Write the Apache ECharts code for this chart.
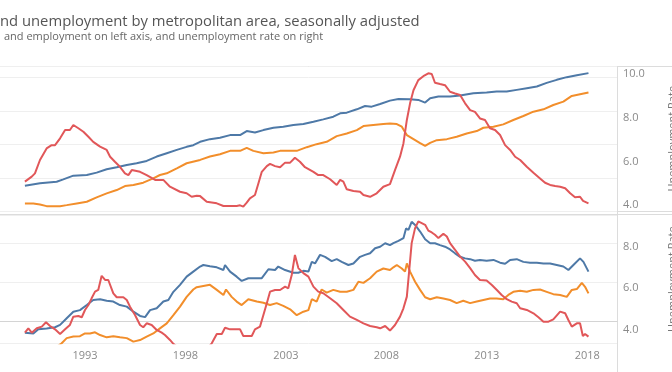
<!DOCTYPE html>
<html><head><meta charset="utf-8">
<script src="https://cdn.jsdelivr.net/npm/echarts@6/dist/echarts.min.js"></script>
<style>html,body{margin:0;padding:0;background:#fff;}#c{width:672px;height:372px;}</style>
</head><body><div id="c"></div>
<script>
// Tick labels
const yearTicks = [1993, 1998, 2003, 2008, 2013, 2018];
const rateTicksTop = [4, 6, 8, 10];
const rateTicksBottom = [4, 6, 8];

// Top metro: [year, value]  (left axis in arbitrary units; rate in %)
const topLabor = [[1990.01,0.77],[1990.76,0.84],[1991.59,0.89],[1991.92,0.96],[1992.42,1.07],[1993.09,1.09],[1993.58,1.16],[1994.08,1.26],[1994.58,1.32],[1995.08,1.39],[1995.57,1.44],[1996.07,1.51],[1996.57,1.64],[1997.07,1.74],[1997.57,1.84],[1998.06,1.93],[1998.39,1.98],[1998.73,2.08],[1999.22,2.16],[1999.72,2.2],[2000.22,2.28],[2000.72,2.28],[2001.05,2.4],[2001.46,2.36],[2001.88,2.43],[2002.38,2.5],[2002.87,2.53],[2003.37,2.58],[2003.87,2.61],[2004.37,2.68],[2004.86,2.75],[2005.36,2.83],[2005.70,2.93],[2006.03,2.95],[2006.53,3.05],[2006.94,3.15],[2007.27,3.13],[2007.69,3.21],[2008.18,3.31],[2008.60,3.36],[2009.18,3.35],[2009.59,3.33],[2009.93,3.25],[2010.18,3.38],[2010.59,3.43],[2011.17,3.43],[2011.67,3.46],[2012.33,3.53],[2012.99,3.55],[2013.49,3.58],[2013.99,3.58],[2014.49,3.63],[2014.99,3.68],[2015.49,3.73],[2015.98,3.84],[2016.48,3.93],[2016.98,4.01],[2017.48,4.07],[2018.06,4.13]];
const topEmployment = [[1990.01,0.24],[1990.43,0.24],[1990.76,0.21],[1991.09,0.16],[1991.76,0.16],[1992.09,0.19],[1992.59,0.24],[1993.09,0.29],[1993.58,0.42],[1994.08,0.54],[1994.58,0.64],[1994.99,0.76],[1995.41,0.79],[1995.90,0.86],[1996.40,0.99],[1996.73,1.09],[1997.07,1.14],[1997.57,1.29],[1998.06,1.44],[1998.73,1.54],[1999.22,1.64],[1999.72,1.71],[2000.22,1.81],[2000.72,1.81],[2001.05,1.9],[2001.38,1.81],[2001.88,1.74],[2002.38,1.76],[2002.71,1.81],[2003.54,1.81],[2004.04,1.92],[2004.53,2.01],[2005.03,2.08],[2005.53,2.25],[2006.03,2.33],[2006.53,2.43],[2006.86,2.55],[2007.35,2.58],[2007.85,2.61],[2008.18,2.63],[2008.52,2.61],[2008.77,2.53],[2009.02,2.28],[2009.35,2.16],[2009.68,2.04],[2009.93,1.96],[2010.18,2.05],[2010.51,2.13],[2011.01,2.16],[2011.50,2.23],[2012.00,2.33],[2012.50,2.4],[2012.83,2.5],[2013.33,2.53],[2013.82,2.6],[2014.32,2.73],[2014.82,2.85],[2015.32,2.98],[2015.82,3.05],[2016.31,3.18],[2016.81,3.28],[2017.23,3.45],[2017.64,3.5],[2018.06,3.55]];
const topRate = [[1990.01,5.08],[1990.35,5.31],[1990.51,5.46],[1990.76,6.07],[1991.09,6.6],[1991.34,6.75],[1991.51,6.75],[1991.76,7.06],[1992.01,7.44],[1992.25,7.44],[1992.42,7.67],[1992.67,7.52],[1992.92,7.36],[1993.17,7.13],[1993.41,6.9],[1993.75,6.68],[1994.08,6.53],[1994.25,6.22],[1994.49,5.99],[1994.74,5.76],[1994.99,5.46],[1995.16,5.38],[1995.33,5.61],[1995.74,5.53],[1996.07,5.38],[1996.49,5.16],[1996.90,5.16],[1997.23,4.85],[1997.73,4.62],[1998.06,4.55],[1998.31,4.39],[1998.56,4.44],[1998.73,4.42],[1999.06,4.16],[1999.56,4.09],[1999.89,3.97],[2000.55,3.97],[2000.72,4.0],[2000.88,3.94],[2001.05,4.12],[2001.21,4.32],[2001.46,4.47],[2001.63,5.0],[2001.80,5.53],[2002.05,5.79],[2002.21,5.89],[2002.46,5.79],[2002.71,5.74],[2002.96,5.95],[2003.21,5.95],[2003.45,6.17],[2003.70,5.99],[2003.95,5.74],[2004.37,5.53],[2004.61,5.38],[2004.86,5.38],[2005.20,5.19],[2005.53,4.93],[2005.70,5.16],[2005.86,5.08],[2006.03,4.73],[2006.36,4.65],[2006.69,4.62],[2006.86,4.47],[2007.19,4.39],[2007.52,4.55],[2007.85,4.85],[2008.18,4.97],[2008.43,5.61],[2008.68,6.22],[2008.85,6.83],[2009.02,7.9],[2009.18,8.66],[2009.35,9.26],[2009.59,9.72],[2009.84,9.9],[2010.09,10.03],[2010.26,10.0],[2010.42,9.6],[2010.67,9.54],[2010.92,9.49],[2011.17,9.19],[2011.42,9.11],[2011.67,9.04],[2011.92,8.66],[2012.17,8.35],[2012.41,8.27],[2012.66,7.97],[2012.91,7.9],[2013.16,7.52],[2013.41,7.44],[2013.66,7.21],[2013.91,6.75],[2014.16,6.53],[2014.41,6.22],[2014.66,6.07],[2014.99,5.76],[2015.32,5.49],[2015.65,5.23],[2015.90,5.03],[2016.15,4.93],[2016.40,4.88],[2016.65,4.85],[2016.90,4.78],[2017.15,4.55],[2017.39,4.37],[2017.64,4.39],[2017.79,4.2],[2018.06,4.09]];

// Bottom metro
const botLabor = [[1990.01,-0.3],[1990.43,-0.32],[1990.68,-0.21],[1991.09,-0.19],[1991.51,-0.16],[1991.76,-0.1],[1992.09,0.07],[1992.42,0.24],[1992.75,0.28],[1993.09,0.41],[1993.41,0.54],[1993.75,0.56],[1994.08,0.52],[1994.41,0.5],[1994.74,0.41],[1995.08,0.37],[1995.41,0.24],[1995.74,0.13],[1995.99,0.1],[1996.24,0.28],[1996.57,0.33],[1996.90,0.5],[1997.15,0.54],[1997.40,0.75],[1997.73,0.93],[1998.06,1.14],[1998.39,1.27],[1998.73,1.4],[1998.89,1.44],[1999.22,1.41],[1999.56,1.38],[1999.89,1.31],[1999.97,1.44],[2000.22,1.27],[2000.55,1.14],[2000.80,1.03],[2001.13,1.1],[2001.80,1.1],[2002.13,1.33],[2002.46,1.31],[2002.62,1.4],[2002.96,1.31],[2003.37,1.24],[2003.62,1.24],[2003.87,1.29],[2004.12,1.27],[2004.29,1.52],[2004.45,1.48],[2004.70,1.7],[2004.95,1.65],[2005.28,1.54],[2005.53,1.59],[2005.78,1.52],[2006.11,1.44],[2006.36,1.48],[2006.69,1.65],[2006.94,1.7],[2007.19,1.74],[2007.44,1.87],[2007.69,1.91],[2007.94,2.0],[2008.18,1.95],[2008.35,2.0],[2008.60,2.06],[2008.85,2.13],[2008.98,2.38],[2009.10,2.34],[2009.26,2.55],[2009.43,2.47],[2009.68,2.3],[2009.93,2.1],[2010.18,2.0],[2010.42,2.0],[2010.67,1.95],[2010.92,1.91],[2011.17,1.84],[2011.42,1.74],[2011.67,1.65],[2011.92,1.61],[2012.17,1.59],[2012.41,1.55],[2012.66,1.57],[2012.99,1.55],[2013.33,1.57],[2013.66,1.5],[2013.91,1.47],[2014.16,1.57],[2014.49,1.59],[2014.82,1.52],[2015.15,1.5],[2015.49,1.5],[2015.82,1.48],[2016.15,1.48],[2016.48,1.44],[2016.81,1.4],[2017.06,1.31],[2017.31,1.44],[2017.64,1.61],[2017.81,1.52],[2018.06,1.27]];
const botEmployment = [[1990.01,-0.8],[1990.76,-0.82],[1991.5,-0.7],[1991.84,-0.57],[1992.09,-0.44],[1992.42,-0.4],[1992.75,-0.39],[1993.00,-0.32],[1993.25,-0.32],[1993.50,-0.29],[1993.75,-0.36],[1994.08,-0.42],[1994.41,-0.39],[1994.74,-0.42],[1995.08,-0.44],[1995.41,-0.53],[1995.74,-0.49],[1996.07,-0.4],[1996.40,-0.32],[1996.73,-0.19],[1997.07,-0.06],[1997.40,0.15],[1997.73,0.37],[1998.06,0.62],[1998.39,0.81],[1998.56,0.87],[1998.89,0.9],[1999.22,0.93],[1999.56,0.8],[1999.89,0.67],[2000.02,0.81],[2000.30,0.62],[2000.55,0.5],[2000.80,0.41],[2001.13,0.56],[2001.55,0.5],[2001.88,0.47],[2002.21,0.41],[2002.54,0.46],[2002.87,0.39],[2003.21,0.3],[2003.54,0.15],[2003.87,0.24],[2004.12,0.28],[2004.29,0.56],[2004.53,0.5],[2004.78,0.81],[2005.03,0.73],[2005.36,0.8],[2005.70,0.75],[2006.03,0.75],[2006.36,0.8],[2006.61,1.01],[2006.86,0.98],[2007.19,1.1],[2007.52,1.27],[2007.85,1.35],[2008.18,1.31],[2008.35,1.38],[2008.52,1.44],[2008.77,1.35],[2008.93,1.27],[2009.02,1.48],[2009.18,1.27],[2009.43,1.01],[2009.68,0.8],[2009.93,0.61],[2010.18,0.56],[2010.51,0.61],[2010.84,0.58],[2011.17,0.54],[2011.50,0.46],[2011.83,0.52],[2012.17,0.46],[2012.50,0.5],[2012.83,0.54],[2013.16,0.58],[2013.49,0.58],[2013.82,0.56],[2014.07,0.67],[2014.32,0.75],[2014.66,0.78],[2014.99,0.75],[2015.32,0.8],[2015.65,0.81],[2015.98,0.75],[2016.31,0.69],[2016.65,0.67],[2016.98,0.62],[2017.23,0.8],[2017.48,0.82],[2017.73,0.98],[2017.89,0.88],[2018.06,0.71]];
const botRate = [[1990.01,3.87],[1990.18,4.08],[1990.35,3.87],[1990.60,4.08],[1990.85,4.16],[1991.06,4.37],[1991.26,4.19],[1991.51,4.03],[1991.76,3.81],[1992.01,4.03],[1992.25,4.24],[1992.42,4.64],[1992.67,4.67],[1992.84,4.61],[1993.00,4.96],[1993.17,5.2],[1993.33,5.52],[1993.50,5.84],[1993.66,5.92],[1993.83,6.6],[1994.00,6.4],[1994.16,6.4],[1994.41,5.76],[1994.58,5.57],[1994.91,5.57],[1995.08,5.44],[1995.24,5.12],[1995.49,4.72],[1995.74,4.24],[1995.90,4.13],[1996.07,4.32],[1996.32,4.24],[1996.57,4.0],[1996.82,3.87],[1996.98,3.76],[1997.23,3.52],[1997.40,3.33],[1997.73,3.1],[1998.23,2.95],[1998.73,2.85],[1999.07,3.1],[1999.31,3.36],[1999.56,3.81],[1999.81,3.81],[1999.97,4.11],[2000.22,4.03],[2000.72,4.03],[2000.88,3.71],[2001.30,3.71],[2001.46,4.03],[2001.71,4.16],[2001.88,4.72],[2002.05,5.28],[2002.21,5.84],[2002.46,5.92],[2002.71,5.92],[2002.96,6.08],[2003.12,6.0],[2003.29,6.64],[2003.45,7.6],[2003.62,6.97],[2003.87,6.73],[2004.12,6.56],[2004.37,6.08],[2004.61,5.84],[2004.86,5.76],[2005.20,5.52],[2005.53,5.28],[2005.86,4.96],[2006.19,4.64],[2006.53,4.48],[2006.86,4.32],[2007.19,4.19],[2007.52,4.13],[2007.69,4.08],[2007.94,4.19],[2008.18,3.97],[2008.43,4.24],[2008.68,4.64],[2008.85,5.04],[2009.02,5.6],[2009.14,6.88],[2009.26,8.17],[2009.43,8.89],[2009.59,9.21],[2009.76,9.13],[2009.93,9.05],[2010.09,8.77],[2010.26,8.68],[2010.42,8.57],[2010.59,8.41],[2010.84,8.62],[2011.01,8.49],[2011.17,8.17],[2011.42,7.85],[2011.67,7.52],[2011.92,7.28],[2012.17,6.97],[2012.41,6.64],[2012.66,6.4],[2012.99,6.37],[2013.25,6.16],[2013.50,5.92],[2013.74,5.68],[2013.99,5.48],[2014.24,5.36],[2014.49,5.28],[2014.66,5.04],[2014.99,4.96],[2015.32,4.8],[2015.57,4.61],[2015.82,4.4],[2016.07,4.4],[2016.31,4.51],[2016.65,4.88],[2016.90,4.8],[2017.06,4.48],[2017.23,4.16],[2017.48,4.32],[2017.64,4.32],[2017.78,3.71],[2017.89,3.81],[2018.06,3.68]];

const BLUE = '#4e79a7', ORANGE = '#f28e2b', RED = '#e15759';
const FONT = 'Open Sans';
const chart = echarts.init(document.getElementById('c'), null, {renderer: 'canvas'});

function xAxis(idx, showLabels) {
  return {
    type: 'value', gridIndex: idx, min: 1988.77, max: 2019.48,
    axisLine: {show: showLabels, lineStyle: {color: '#d4d4d4', width: 1}},
    axisTick: {show: false},
    splitLine: {show: false},
    axisLabel: {show: showLabels, customValues: yearTicks, color: '#8a8a8a', fontSize: 11, fontFamily: FONT, margin: 7,
      formatter: v => String(Math.round(v))}
  };
}
function rateAxis(idx, min, max, ticks) {
  return {
    type: 'value', gridIndex: idx, position: 'right', min: min, max: max,
    name: 'Unemployment Rate', nameLocation: 'middle', nameRotate: 90, nameGap: 50,
    nameTextStyle: {color: '#777', fontSize: 11, fontFamily: FONT},
    axisLine: {show: false}, axisTick: {show: false}, splitLine: {show: false},
    axisLabel: {customValues: ticks, color: '#8a8a8a', fontSize: 11, fontFamily: FONT, margin: 6,
      formatter: v => v.toFixed(1)}
  };
}

const option = {
  backgroundColor: '#ffffff',
  animation: false,
  title: [
    {text: 'nd unemployment by metropolitan area, seasonally adjusted', left: 0, top: 14, padding: 0,
     textStyle: {color: '#555', fontSize: 14.8, fontWeight: 'normal', fontFamily: FONT}},
    {text: 'and employment on left axis, and unemployment rate on right', left: 4, top: 31, padding: 0,
     textStyle: {color: '#666', fontSize: 11, fontWeight: 'normal', fontFamily: FONT}}
  ],
  grid: [
    {left: 0, right: 55, top: 66, height: 145.5, containLabel: false, outerBoundsMode: 'none'},
    {left: 0, right: 55, top: 215, height: 128.3, containLabel: false, outerBoundsMode: 'none'}
  ],
  xAxis: [xAxis(0, false), xAxis(1, true)],
  yAxis: [
    {type: 'value', gridIndex: 0, position: 'left', min: 0, max: 4.343, interval: 1,
     axisLine: {show: false}, axisTick: {show: false}, axisLabel: {show: false},
     splitLine: {show: true, lineStyle: {color: '#efefef', width: 1}}},
    rateAxis(0, 3.717, 10.366, rateTicksTop),
    {type: 'value', gridIndex: 1, position: 'left', min: -0.573, max: 2.725, splitNumber: 3,
     axisLine: {show: false}, axisTick: {show: false}, axisLabel: {show: false},
     splitLine: {show: true, lineStyle: {color: '#efefef', width: 1}}},
    rateAxis(1, 3.36, 9.52, rateTicksBottom)
  ],
  series: [
    {type: 'line', xAxisIndex: 0, yAxisIndex: 0, data: topEmployment, color: ORANGE},
    {type: 'line', xAxisIndex: 0, yAxisIndex: 0, data: topLabor, color: BLUE},
    {type: 'line', xAxisIndex: 0, yAxisIndex: 1, data: topRate, color: RED},
    {type: 'line', xAxisIndex: 1, yAxisIndex: 2, data: botEmployment, color: ORANGE},
    {type: 'line', xAxisIndex: 1, yAxisIndex: 2, data: botLabor, color: BLUE},
    {type: 'line', xAxisIndex: 1, yAxisIndex: 3, data: botRate, color: RED}
  ].map(s => Object.assign(s, {showSymbol: false, symbol: 'none', clip: true,
      lineStyle: {width: 2, color: s.color}, itemStyle: {color: s.color}})),
  graphic: [
    {type: 'line', shape: {x1: 0, y1: 66.5, x2: 672, y2: 66.5}, style: {stroke: '#dcdcdc', lineWidth: 1}, silent: true},
    {type: 'line', shape: {x1: 0, y1: 211.5, x2: 672, y2: 211.5}, style: {stroke: '#dcdcdc', lineWidth: 1}, silent: true},
    {type: 'line', shape: {x1: 0, y1: 214.5, x2: 672, y2: 214.5}, style: {stroke: '#dcdcdc', lineWidth: 1}, silent: true},
    {type: 'line', shape: {x1: 617.5, y1: 66, x2: 617.5, y2: 372}, style: {stroke: '#dcdcdc', lineWidth: 1}, silent: true}
  ]
};
chart.setOption(option);
</script></body></html>
